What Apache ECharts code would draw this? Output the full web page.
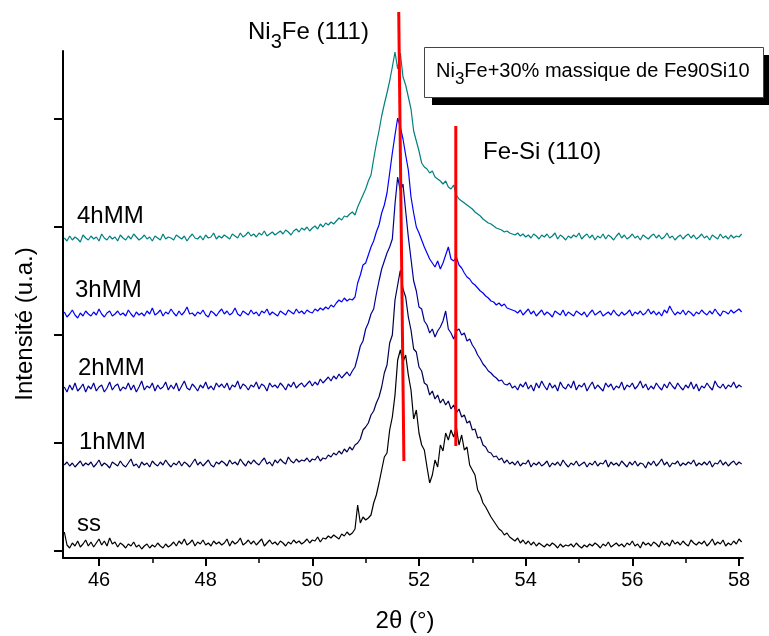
<!DOCTYPE html>
<html><head><meta charset="utf-8">
<script src="https://cdn.jsdelivr.net/npm/echarts@6/dist/echarts.min.js"></script>
<style>html,body{margin:0;padding:0;background:#fff}#c{width:769px;height:636px}</style>
</head><body><div id="c"></div>
<script>
// 2-theta sampling grid: 45.35 .. 58.05 step 0.05 (255 points)
const xStart = 45.35, xStep = 0.05;

// Intensity readings (a.u.) per pattern, one line = 10 points (0.5 deg)
const ss = [
33,20,17,22,19,24,18,21,25,19,
23,18,22,26,20,24,19,27,21,23,
18,22,20,17,21,19,23,18,20,16,
19,21,17,20,18,22,19,17,21,18,
20,23,19,24,21,26,20,22,25,19,
23,21,25,20,22,19,24,21,23,20,
22,26,19,24,21,23,27,20,22,25,
21,24,20,23,26,19,22,25,21,23,
20,24,22,19,23,21,25,22,24,21,
23,26,22,25,24,28,23,27,26,29,
27,30,28,26,31,29,33,30,32,36,
60,42,48,45,47,50,62,70,82,95,
108,112,135,148,170,205,215,203,210,190,
175,146,155,132,120,115,98,82,90,105,
98,120,114,132,125,135,128,138,120,130,
115,118,100,95,90,75,70,62,58,53,
48,44,40,36,34,30,32,28,26,24,
27,22,25,21,24,20,23,19,22,20,
18,21,19,22,20,17,21,18,20,19,
21,18,22,19,17,20,18,21,19,22,
20,17,21,19,23,18,20,22,19,21,
18,22,20,24,19,21,17,23,20,22,
19,23,21,18,24,20,22,19,25,21,
23,20,24,21,19,25,22,20,23,21,
24,19,22,26,20,23,21,25,19,22,
20,24,21,26,23];

const h1 = [
20,23,19,22,18,21,24,19,22,20,
23,18,21,25,19,22,20,17,23,21,
19,24,20,18,22,26,19,21,17,23,
20,22,18,24,21,19,23,20,25,21,
18,22,20,24,19,23,21,18,22,26,
20,23,19,22,25,20,18,23,21,24,
22,19,25,21,23,20,26,22,19,24,
21,25,22,20,24,27,21,23,19,25,
22,26,23,21,28,24,22,26,23,25,
24,27,23,26,25,29,24,27,26,30,
28,32,30,34,31,36,33,38,35,40,
42,46,55,58,62,70,74,82,88,98,
112,120,142,150,185,200,215,196,188,168,
155,136,133,118,114,102,100,90,94,86,
90,82,86,80,84,76,80,72,76,68,
70,62,64,55,56,47,48,40,38,33,
32,28,29,25,27,22,25,21,23,20,
24,19,22,21,25,18,22,20,23,19,
21,24,18,22,20,23,19,25,21,18,
22,20,24,19,21,23,18,22,20,24,
19,22,21,25,18,23,20,22,19,24,
21,18,23,20,24,19,22,21,17,23,
20,24,19,22,26,20,23,18,22,21,
24,19,22,20,23,21,25,19,22,20,
23,20,24,18,22,21,25,20,23,19,
22,24,20,23,21];

const h2 = [
22,17,24,19,26,18,21,25,17,23,
20,26,18,22,24,17,21,27,19,23,
25,18,22,20,26,19,24,17,22,28,
19,23,21,26,18,24,20,22,27,19,
24,20,26,18,23,28,21,19,25,22,
18,24,21,27,20,23,19,26,22,25,
21,26,19,24,22,28,20,25,23,19,
24,22,27,20,25,23,18,26,22,24,
21,26,23,19,25,22,27,21,24,26,
22,25,28,23,27,24,30,26,29,32,
28,33,30,35,31,34,37,33,38,42,
52,63,68,80,86,95,100,115,128,140,
148,156,162,170,205,232,218,225,198,172,
150,128,118,102,100,88,84,76,80,72,
78,82,88,98,80,76,70,78,80,74,
76,68,70,64,60,54,50,45,42,38,
36,33,31,28,29,25,24,26,21,23,
19,25,22,27,20,24,18,26,21,28,
23,19,26,21,24,18,27,22,20,25,
21,28,19,24,22,26,18,23,27,20,
24,21,18,26,22,25,19,23,21,27,
19,24,22,26,20,23,28,21,25,19,
23,20,26,22,19,25,21,27,23,20,
26,22,19,24,21,27,20,25,18,23,
21,26,22,19,28,23,21,25,20,24,
22,27,21,24,22];

const h3 = [
23,18,21,25,20,17,22,19,24,21,
19,23,20,26,21,18,22,24,19,21,
24,20,22,19,25,21,18,23,20,22,
19,24,21,27,20,22,25,19,23,21,
26,22,19,24,20,23,28,21,22,19,
23,21,25,20,18,24,22,19,23,26,
21,24,20,22,27,21,19,24,22,20,
25,21,23,19,24,22,26,20,23,21,
19,24,22,20,25,23,21,26,22,24,
21,25,23,22,26,24,27,25,28,26,
30,28,32,35,33,37,34,36,35,38,
52,60,70,72,80,88,94,103,110,122,
130,142,162,182,200,217,208,196,180,165,
138,122,108,102,95,88,82,76,72,68,
74,66,72,80,88,76,74,78,70,67,
62,58,56,52,50,47,44,42,39,37,
34,33,30,32,29,31,27,26,25,24,
22,25,20,23,26,21,24,19,22,25,
20,23,21,18,24,22,20,25,19,23,
21,19,24,22,20,23,18,22,25,20,
22,24,19,21,23,20,25,21,19,23,
20,22,25,19,23,21,24,20,22,26,
21,24,20,23,19,25,22,29,24,20,
23,21,25,20,24,22,19,23,21,25,
22,20,24,21,26,22,19,24,23,21,
25,22,24,26,23];

const h4 = [
21,18,23,19,22,20,17,24,21,19,
23,20,22,18,25,21,19,23,20,22,
18,24,21,19,23,20,25,22,19,21,
24,20,22,18,23,21,19,25,20,22,
21,19,24,22,20,23,18,22,25,21,
20,23,19,24,21,22,26,20,23,21,
24,22,20,25,23,21,26,22,24,27,
23,25,22,26,24,28,23,25,27,24,
26,28,25,29,27,24,28,30,27,31,
29,32,28,31,33,30,35,32,36,34,
37,35,38,41,39,43,42,45,47,44,
52,58,64,70,78,84,100,115,128,143,
155,166,178,192,207,190,206,182,174,162,
150,128,118,108,96,92,90,86,88,82,
80,78,75,78,72,70,74,64,60,58,
56,54,52,50,47,45,43,40,38,36,
35,33,31,30,29,27,28,26,25,24,
26,23,25,22,24,21,25,23,20,24,
22,25,21,23,26,20,24,22,19,23,
21,24,22,26,20,23,25,21,24,19,
23,21,25,20,24,22,19,23,26,21,
24,20,22,25,21,23,19,24,22,20,
23,25,21,24,20,22,26,21,23,19,
22,24,20,23,25,21,24,20,22,25,
21,23,19,24,22,20,25,21,23,20,
24,21,23,22,25];

const seriesNames   = ['ss', '1hMM', '2hMM', '3hMM', '4hMM'];
const seriesData    = [ss, h1, h2, h3, h4];
const seriesOffsets = [0, 80, 156, 230, 306];
const seriesColors  = ['#000000', '#000050', '#00009A', '#0000FF', '#008080'];

const xTicks      = [46, 48, 50, 52, 54, 56, 58];
const xMinorTicks = [47, 49, 51, 53, 55, 57];
const yTicks      = [14.3, 122.3, 230.3, 338.3, 446.3];

// reference peak positions (red markers): [2theta, intensity] end points
const refLineNames = ['Ni3Fe (111)', 'Fe-Si (110)'];
const refLineX = [[51.62, 51.717], [52.69, 52.69]];
const refLineY = [[553, 104], [439, 119]];

const FONT = "'Liberation Sans', Arial, Helvetica, sans-serif";

const series = seriesData.map((vals, s) => ({
  name: seriesNames[s],
  type: 'line',
  xAxisIndex: 0, yAxisIndex: 0,
  showSymbol: false, symbol: 'none',
  clip: false,
  animation: false,
  lineStyle: { color: seriesColors[s], width: 1.2 },
  data: vals.map((v, i) => [+(xStart + i * xStep).toFixed(2), v + seriesOffsets[s]]),
  z: 2
}));
refLineNames.forEach((n, r) => {
  series.push({
    name: n, type: 'line', showSymbol: false, symbol: 'none', clip: false, animation: false,
    lineStyle: { color: '#FF0000', width: 3 },
    data: [[refLineX[r][0], refLineY[r][0]], [refLineX[r][1], refLineY[r][1]]],
    z: 5
  });
});

const mctx = document.createElement('canvas').getContext('2d');
function tw(text, size) { mctx.font = size + 'px ' + FONT; return mctx.measureText(text).width; }

function txt(text, x, y, size, opts) {
  return {
    type: 'text', x: x, y: y, z: 10,
    style: Object.assign({
      text: text, fill: '#000', font: size + 'px ' + FONT,
      align: 'left', verticalAlign: 'middle', textAlign: 'left', textVerticalAlign: 'middle'
    }, opts || {})
  };
}
// text with a subscript: parts [main, sub, main], main centre y, sub centre offset
function subText(parts, x, y, size, subSize, subDy) {
  const out = [];
  let cx = x;
  out.push(txt(parts[0], cx, y, size)); cx += tw(parts[0], size);
  out.push(txt(parts[1], cx, y + subDy, subSize)); cx += tw(parts[1], subSize);
  out.push(txt(parts[2], cx, y, size));
  return out;
}

const labelPos = { '4hMM': [77, 216], '3hMM': [75, 290], '2hMM': [78, 368], '1hMM': [79, 442], 'ss': [77, 524] };

const graphic = [
  { type: 'rect', shape: { x: 432, y: 55, width: 340, height: 50 }, style: { fill: '#000' }, z: 8 },
  { type: 'rect', shape: { x: 424.5, y: 47.5, width: 339, height: 50 }, style: { fill: '#fff', stroke: '#444', lineWidth: 1 }, z: 9 },
  txt('Fe-Si (110)', 483, 152, 24),
  txt('2θ (°)', 405, 621, 24, { align: 'center', textAlign: 'center' }),
  Object.assign(txt('Intensité (u.a.)', 25, 324, 24, { align: 'center', textAlign: 'center' }), { rotation: Math.PI / 2 })
]
.concat(subText(['Ni', '3', 'Fe+30% massique de Fe90Si10'], 436, 71, 20, 17, 8))
.concat(subText(['Ni', '3', 'Fe (111)'], 248, 32.5, 24, 20, 10));
seriesNames.forEach(n => graphic.push(txt(n, labelPos[n][0], labelPos[n][1], 24)));

const chart = echarts.init(document.getElementById('c'), null, { renderer: 'canvas' });
chart.setOption({
  animation: false,
  backgroundColor: '#fff',
  grid: { left: 63, right: 26, top: 51, bottom: 78, containLabel: false },
  xAxis: [{
    type: 'value', min: 45.325, max: 58.075,
    axisLine: { show: true, onZero: false, lineStyle: { color: '#000', width: 2 } },
    axisTick: { show: true, inside: false, length: 8, lineStyle: { color: '#000', width: 2 }, customValues: xTicks },
    axisLabel: { show: true, color: '#000', fontSize: 20, fontFamily: FONT, margin: 12, customValues: xTicks },
    splitLine: { show: false }
  }, {
    type: 'value', min: 45.325, max: 58.075, position: 'bottom',
    axisLine: { show: false, onZero: false },
    axisTick: { show: true, inside: false, length: 5, lineStyle: { color: '#000', width: 1.5 }, customValues: xMinorTicks },
    axisLabel: { show: false },
    splitLine: { show: false }
  }],
  yAxis: [{
    type: 'value', min: 7, max: 514,
    axisLine: { show: true, onZero: false, lineStyle: { color: '#000', width: 2 } },
    axisTick: { show: true, inside: false, length: 9, lineStyle: { color: '#000', width: 2 }, customValues: yTicks },
    axisLabel: { show: false },
    splitLine: { show: false }
  }],
  series: series,
  graphic: graphic
});
</script>
</body></html>
